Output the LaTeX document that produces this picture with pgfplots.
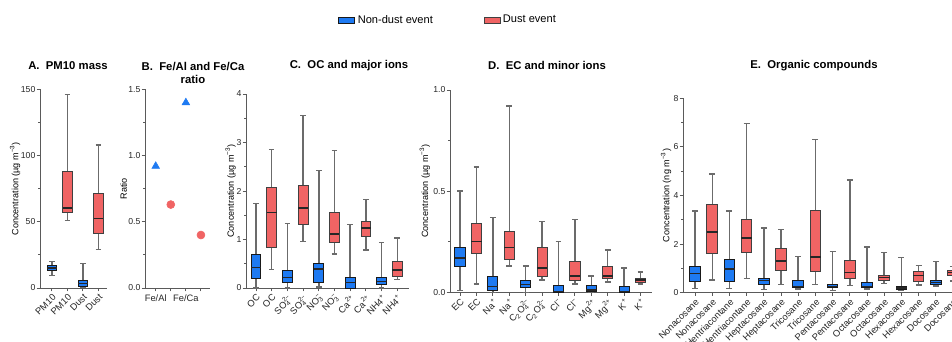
\documentclass[border=0pt]{standalone}
\usepackage{fontspec}
\setmainfont{Liberation Sans}
\usepackage{pgfplots}
\usepgfplotslibrary{statistics}
\pgfplotsset{compat=1.18}
\definecolor{bluebox}{RGB}{30,122,242}
\definecolor{redbox}{RGB}{240,100,100}
\definecolor{axgray}{RGB}{90,90,90}
\newcommand{\ion}[3]{#1\rlap{\textsubscript{#2}}\textsuperscript{#3}}
\newcommand{\bx}[7]{\addplot[#1, boxplot/draw direction=y, boxplot prepared={draw position=#2, lower whisker=#3, lower quartile=#4, median=#5, upper quartile=#6, upper whisker=#7}] coordinates {};}
\pgfplotsset{
  myax/.style={
    scale only axis, anchor=south west,
    axis x line*=bottom, axis y line*=left,
    axis line style={axgray, line width=0.7pt, -},
    tick align=outside,
    major tick length=2.5pt, minor tick length=1.5pt,
    tick style={axgray, line width=0.7pt},
    ymin=0, minor y tick num=1,
    /pgf/number format/assume math mode=true,
    y tick label style={font=\fontsize{6.5}{7}\selectfont, text=black!85, inner sep=0.8pt},
    x tick label style={font=\fontsize{7}{7}\selectfont, inner sep=1pt, text=black!85},
    ylabel style={font=\fontsize{6.8}{7}\selectfont, anchor=center},
    boxplot/draw direction=y,
    boxplot/box extend=0.62,
    boxplot/whisker extend=0.35,
    boxplot/every box/.style={line width=0.7pt},
    boxplot/every whisker/.style={draw=black!58, fill=none, line width=1.1pt},
    boxplot/every median/.style={draw=black!85, fill=none, line width=1pt},
    clip=false,
  },
  rotlab/.style={x tick label style={rotate=45, anchor=north east}},
  nd/.style={fill=bluebox, draw=black!90},
  du/.style={fill=redbox, draw=black!75},
}
\begin{document}
\begin{tikzpicture}
\path[use as bounding box] (0,0) rectangle (714pt,256.5pt);
\clip (0,0) rectangle (714pt,256.5pt);

% titles
\node[font=\bfseries\fontsize{8.5}{10}\selectfont] at (51pt,207pt) {A.\ \ PM10 mass};
\node[font=\bfseries\fontsize{8.5}{10}\selectfont, align=center] at (144.75pt,202pt) {B.\ \ Fe/Al and Fe/Ca\\ratio};
\node[font=\bfseries\fontsize{8.5}{10}\selectfont] at (261.75pt,207.2pt) {C.\ \ OC and major ions};
\node[font=\bfseries\fontsize{8.5}{10}\selectfont] at (410.25pt,207.2pt) {D.\ \ EC and minor ions};
\node[font=\bfseries\fontsize{8.5}{10}\selectfont] at (610.5pt,207.2pt) {E.\ \ Organic compounds};

% A
\begin{axis}[myax, rotlab, at={(30pt,40.5pt)}, width=50.25pt, height=149pt,
  xmin=-0.76, xmax=3.55, ymax=150, ytick={0,50,100,150},
  xtick={0,1,2,3}, xticklabels={PM10,PM10,Dust,Dust},
  ylabel={Concentration (µg m\textsuperscript{−3})},
  ylabel style={at={(axis description cs:-0.37,0.5)}}]
\bx{nd}{0}{9.5}{13}{15}{17}{20}
\bx{du}{1}{51}{57}{60.5}{87.8}{146}
\bx{nd}{2}{0.5}{1.5}{3.5}{6}{18.6}
\bx{du}{3}{29}{40.8}{52.6}{71.5}{108}
\end{axis}

% B
\begin{axis}[myax, at={(108.75pt,40.5pt)}, width=48.75pt, height=149pt,
  xmin=-0.71, xmax=3.6, ymax=1.5, ytick={0,0.5,1,1.5},
  yticklabel style={/pgf/number format/.cd, fixed, fixed zerofill, precision=1},
  xtick={0,1,2,3}, xticklabels={Fe/Al,,Fe/Ca,},
  x tick label style={anchor=north, inner sep=2pt},
  ylabel={Ratio},
  ylabel style={at={(axis description cs:-0.33,0.5)}}]
\addplot[only marks, mark=triangle*, mark size=3.3pt, color=bluebox] coordinates {(0,0.92) (2,1.40)};
\addplot[only marks, mark=*, mark size=3pt, color=redbox] coordinates {(1,0.63) (3,0.40)};
\end{axis}

% C
\begin{axis}[myax, rotlab, at={(184.5pt,40.5pt)}, width=122.25pt, height=145.5pt,
  xmin=-0.64, xmax=9.75, ymax=4, ytick={0,1,2,3,4},
  xtick={0,...,9},
  xticklabels={OC,OC,\ion{SO}{4}{2−},\ion{SO}{4}{2−},\ion{NO}{3}{−},\ion{NO}{3}{−},Ca\textsuperscript{2+},Ca\textsuperscript{2+},NH4\textsuperscript{+},NH4\textsuperscript{+}},
  ylabel={Concentration (µg m\textsuperscript{−3})},
  ylabel style={at={(axis description cs:-0.094,0.5)}},
  legend style={at={(axis description cs:1.242,1.381)}, anchor=center, draw=none, fill=none,
    legend columns=2, font=\fontsize{8.3}{10}\selectfont,
    /tikz/every even column/.append style={column sep=36pt}}]
\addlegendimage{legend image code/.code={\draw[fill=bluebox,draw=black!90,line width=0.6pt] (0pt,-2.2pt) rectangle (12pt,2.2pt);}}
\addlegendentry{Non-dust event}
\addlegendimage{legend image code/.code={\draw[fill=redbox,draw=black!75,line width=0.6pt] (0pt,-2.2pt) rectangle (12pt,2.2pt);}}
\addlegendentry{Dust event}
\bx{nd}{0}{0.0}{0.19}{0.42}{0.70}{1.74}
\bx{du}{1}{0.38}{0.84}{1.56}{2.07}{2.86}
\bx{nd}{2}{0.0}{0.12}{0.22}{0.36}{1.33}
\bx{du}{3}{0.96}{1.30}{1.65}{2.11}{3.56}
\bx{nd}{4}{0.02}{0.12}{0.39}{0.50}{2.42}
\bx{du}{5}{0.70}{0.94}{1.11}{1.55}{2.84}
\bx{nd}{6}{0.0}{0.0}{0.12}{0.22}{1.31}
\bx{du}{7}{0.78}{1.07}{1.24}{1.38}{1.82}
\bx{nd}{8}{0.0}{0.08}{0.13}{0.22}{0.94}
\bx{du}{9}{0.17}{0.24}{0.37}{0.55}{1.03}
\end{axis}

% D
\begin{axis}[myax, rotlab, at={(337.5pt,37.3pt)}, width=151.5pt, height=151.7pt,
  xmin=-0.61, xmax=11.7, ymax=1, ytick={0,0.5,1},
  yticklabel style={/pgf/number format/.cd, fixed, fixed zerofill, precision=1},
  xtick={0,...,11},
  xticklabels={EC,EC,Na\textsuperscript{+},Na\textsuperscript{+},C\textsubscript{2}\ion{O}{4}{2−},C\textsubscript{2}\ion{O}{4}{2−},Cl\textsuperscript{−},Cl\textsuperscript{−},Mg\textsuperscript{2+},Mg\textsuperscript{2+},K\textsuperscript{+},K\textsuperscript{+}},
  ylabel={Concentration (µg m\textsuperscript{−3})},
  ylabel style={at={(axis description cs:-0.124,0.5)}}]
\bx{nd}{0}{0.01}{0.13}{0.17}{0.22}{0.50}
\bx{du}{1}{0.04}{0.19}{0.25}{0.34}{0.62}
\bx{nd}{2}{0.0}{0.01}{0.03}{0.08}{0.37}
\bx{du}{3}{0.13}{0.16}{0.22}{0.30}{0.92}
\bx{nd}{4}{0.0}{0.025}{0.04}{0.06}{0.13}
\bx{du}{5}{0.06}{0.08}{0.12}{0.22}{0.35}
\bx{nd}{6}{0.0}{0.0}{0.003}{0.035}{0.25}
\bx{du}{7}{0.04}{0.06}{0.08}{0.15}{0.36}
\bx{nd}{8}{0.0}{0.003}{0.012}{0.035}{0.08}
\bx{du}{9}{0.05}{0.07}{0.08}{0.13}{0.21}
\bx{nd}{10}{0.0}{0.0}{0.003}{0.03}{0.12}
\bx{du}{11}{0.04}{0.05}{0.06}{0.07}{0.10}
\end{axis}

% E
\begin{axis}[myax, rotlab, at={(512.25pt,37pt)}, width=211.5pt, height=145.8pt,
  xmin=-0.7, xmax=15.7, ymax=8, ytick={0,2,4,6,8},
  xtick={0,...,15},
  xticklabels={Nonacosane,Nonacosane,Hentriacontane,Hentriacontane,Heptacosane,Heptacosane,Tricosane,Tricosane,Pentacosane,Pentacosane,Octacosane,Octacosane,Hexacosane,Hexacosane,Docosane,Docosane},
  ylabel={Concentration (ng m\textsuperscript{−3})},
  ylabel style={at={(axis description cs:-0.06,0.5)}}]
\bx{nd}{0}{0.18}{0.45}{0.80}{1.07}{3.36}
\bx{du}{1}{0.53}{1.63}{2.50}{3.61}{4.88}
\bx{nd}{2}{0.18}{0.47}{0.97}{1.37}{3.36}
\bx{du}{3}{0.59}{1.66}{2.25}{3.00}{6.97}
\bx{nd}{4}{0.12}{0.34}{0.49}{0.58}{2.67}
\bx{du}{5}{0.34}{0.93}{1.30}{1.82}{2.59}
\bx{nd}{6}{0.16}{0.22}{0.26}{0.49}{1.48}
\bx{du}{7}{0.33}{0.89}{1.47}{3.39}{6.31}
\bx{nd}{8}{0.10}{0.21}{0.25}{0.33}{1.70}
\bx{du}{9}{0.30}{0.59}{0.84}{1.32}{4.64}
\bx{nd}{10}{0.16}{0.21}{0.26}{0.41}{1.87}
\bx{du}{11}{0.38}{0.49}{0.63}{0.71}{1.66}
\bx{nd}{12}{0.08}{0.14}{0.19}{0.25}{1.44}
\bx{du}{13}{0.32}{0.45}{0.71}{0.89}{1.12}
\bx{nd}{14}{0.27}{0.32}{0.41}{0.49}{1.28}
\bx{du}{15}{0.48}{0.69}{0.82}{0.93}{1.07}
\end{axis}
\end{tikzpicture}
\end{document}
